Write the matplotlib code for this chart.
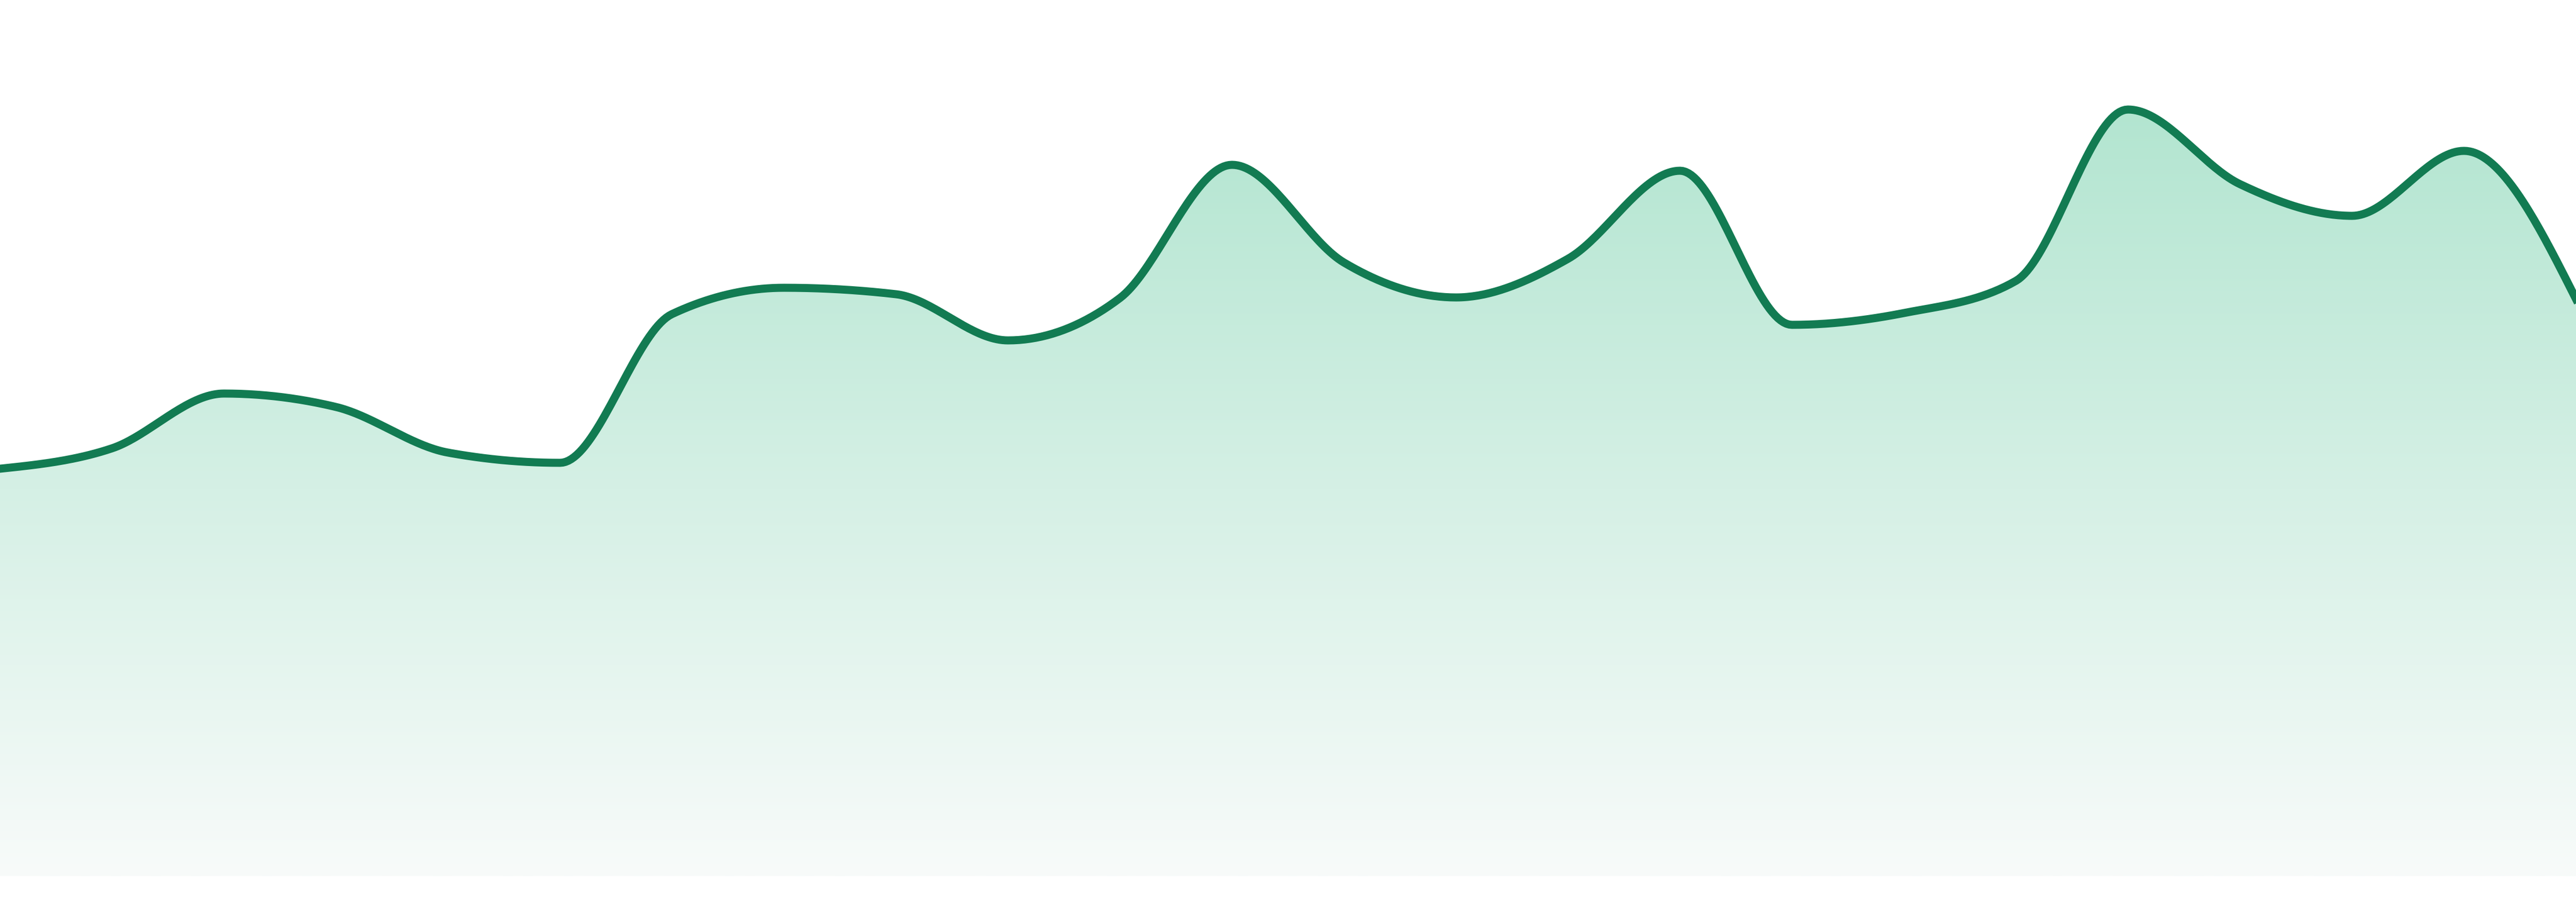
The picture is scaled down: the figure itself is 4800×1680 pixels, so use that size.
import numpy as np
import matplotlib
matplotlib.use('Agg')
import matplotlib.pyplot as plt
from matplotlib.colors import to_rgb

# Values (one point per step)
steps = np.arange(24)
values = [75.9, 79.7, 89.9, 87.4, 78.9, 77.0, 104.7, 109.6, 108.4, 99.8, 107.7, 132.5,
          114.3, 107.8, 115.0, 131.4, 102.7, 104.9, 110.9, 142.8, 128.9, 123.0, 135.1, 107.5]

line_color = '#127b52'
fill_top = '#b2e5d0'
fill_bottom = '#f8fbfa'


def monotone_x(x, y, n=40):
    # same smoothing as d3.curveMonotoneX
    x = np.asarray(x, float)
    y = np.asarray(y, float)
    h = np.diff(x)
    s = np.diff(y) / h
    t = np.zeros(len(x))
    for i in range(1, len(x) - 1):
        p = (s[i - 1] * h[i] + s[i] * h[i - 1]) / (h[i - 1] + h[i])
        m = (np.sign(s[i - 1]) + np.sign(s[i])) * min(abs(s[i - 1]), abs(s[i]), 0.5 * abs(p))
        t[i] = m if m != 0 else 0.0
    t[0] = (3 * s[0] - t[1]) / 2
    t[-1] = (3 * s[-1] - t[-2]) / 2
    xs, ys = [], []
    for i in range(len(x) - 1):
        u = np.linspace(0, 1, n, endpoint=False)
        h00 = 2 * u**3 - 3 * u**2 + 1
        h10 = u**3 - 2 * u**2 + u
        h01 = -2 * u**3 + 3 * u**2
        h11 = u**3 - u**2
        xs.append(x[i] + u * h[i])
        ys.append(h00 * y[i] + h10 * h[i] * t[i] + h01 * y[i + 1] + h11 * h[i] * t[i + 1])
    xs.append([x[-1]])
    ys.append([y[-1]])
    return np.concatenate(xs), np.concatenate(ys)


xs, ys = monotone_x(steps, values)

fig = plt.figure(figsize=(16, 5.6), dpi=300)
ax = fig.add_axes([0, 48 / 1680, 1, 1632 / 1680])
ax.set_xlim(0, 23)
ax.set_ylim(0, 163.2)
ax.axis('off')

# Area with vertical gradient
area = ax.fill_between(xs, ys, 0, facecolor='none', edgecolor='none')
top = np.array(to_rgb(fill_top))
bottom = np.array(to_rgb(fill_bottom))
k = np.linspace(0, 1, 512)[:, None]
grad = bottom + (top - bottom) * k * (163.2 / 144.0)
grad = np.clip(grad, 0, 1)[:, None, :]
img = ax.imshow(grad, extent=[0, 23, 0, 163.2], origin='lower', aspect='auto',
                interpolation='bilinear', zorder=1)
img.set_clip_path(area.get_paths()[0], transform=ax.transData)

# Line on top
ax.plot(xs, ys, color=line_color, linewidth=3.6, solid_joinstyle='round', zorder=2)

fig.savefig('out.png', dpi=300)
